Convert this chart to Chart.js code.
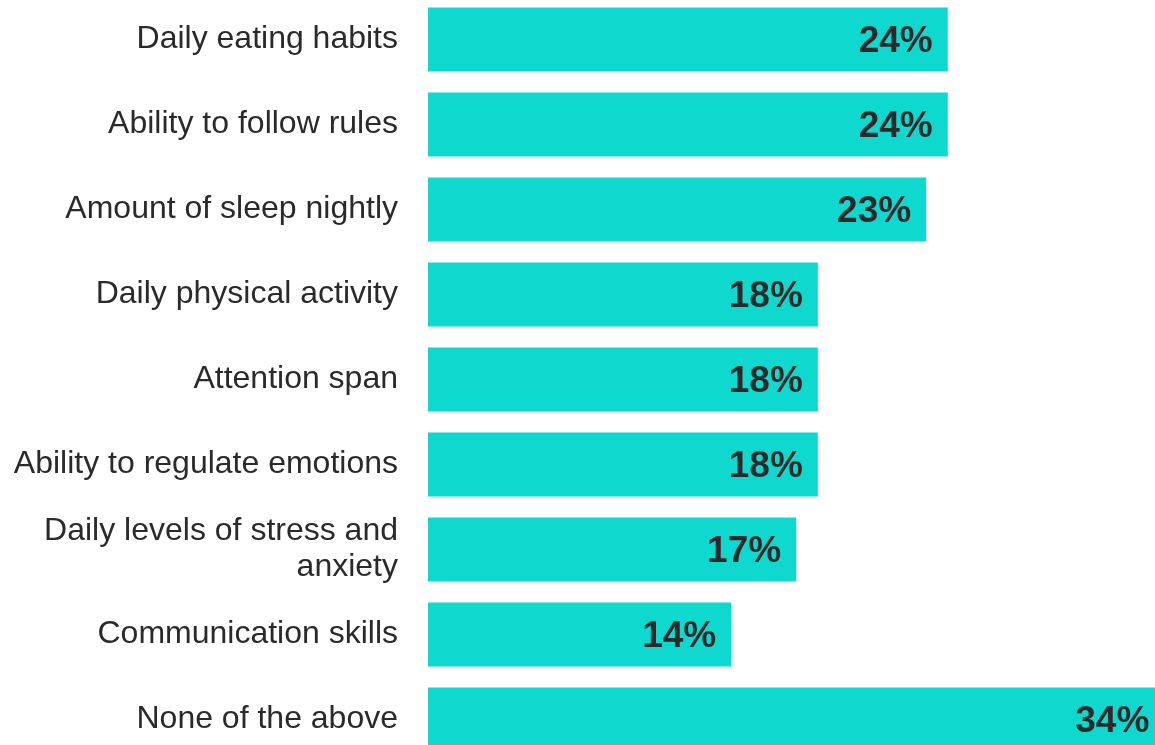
<!DOCTYPE html>
<html>
<head>
<meta charset="utf-8">
<script src="https://cdn.jsdelivr.net/npm/chart.js@4/dist/chart.umd.min.js"></script>
<style>
  html, body { margin: 0; padding: 0; background: #ffffff; overflow: hidden; width: 1155px; height: 745px; }
  #wrap { position: absolute; left: 0; top: -3px; width: 1186px; height: 765px; }
</style>
</head>
<body>
<div id="wrap"><canvas id="chart" width="1186" height="765"></canvas></div>
<script>
// Share of respondents per area (%)
const categories = [
  "Daily eating habits",
  "Ability to follow rules",
  "Amount of sleep nightly",
  "Daily physical activity",
  "Attention span",
  "Ability to regulate emotions",
  ["Daily levels of stress and", "anxiety"],
  "Communication skills",
  "None of the above"
];
const shares = [24, 24, 23, 18, 18, 18, 17, 14, 34];
const shareLabels = ["24%", "24%", "23%", "18%", "18%", "18%", "17%", "14%", "34%"];

const BAR_COLOR = "#0fd8cf";
const TEXT_COLOR = "#2a2a2a";
const FONT = "'Liberation Sans', Arial, Helvetica, sans-serif";

// Writes each bar's value just inside its right end
const valueLabels = {
  id: "valueLabels",
  afterDatasetsDraw(chart) {
    const ctx = chart.ctx;
    const meta = chart.getDatasetMeta(0);
    ctx.save();
    ctx.font = "bold 37px " + FONT;
    ctx.fillStyle = TEXT_COLOR;
    ctx.textAlign = "right";
    ctx.textBaseline = "middle";
    meta.data.forEach((bar, i) => {
      ctx.fillText(shareLabels[i], bar.x - 15, bar.y + 2);
    });
    ctx.restore();
  }
};

new Chart(document.getElementById("chart"), {
  type: "bar",
  data: {
    labels: categories,
    datasets: [{
      data: shares,
      backgroundColor: BAR_COLOR,
      borderWidth: 0,
      categoryPercentage: 1,
      barPercentage: 0.753
    }]
  },
  options: {
    indexAxis: "y",
    responsive: false,
    animation: false,
    layout: { padding: 0 },
    plugins: {
      legend: { display: false },
      tooltip: { enabled: false }
    },
    scales: {
      x: {
        display: false,
        min: 0,
        max: 35
      },
      y: {
        grid: { display: false, drawTicks: false },
        border: { display: false },
        ticks: {
          color: TEXT_COLOR,
          padding: 30,
          font: { family: FONT, size: 32, lineHeight: 1.125 }
        },
        afterFit(scale) {
          scale.width = 428;
          scale.paddingTop = 0;
          scale.paddingBottom = 0;
        }
      }
    }
  },
  plugins: [valueLabels]
});
</script>
</body>
</html>
